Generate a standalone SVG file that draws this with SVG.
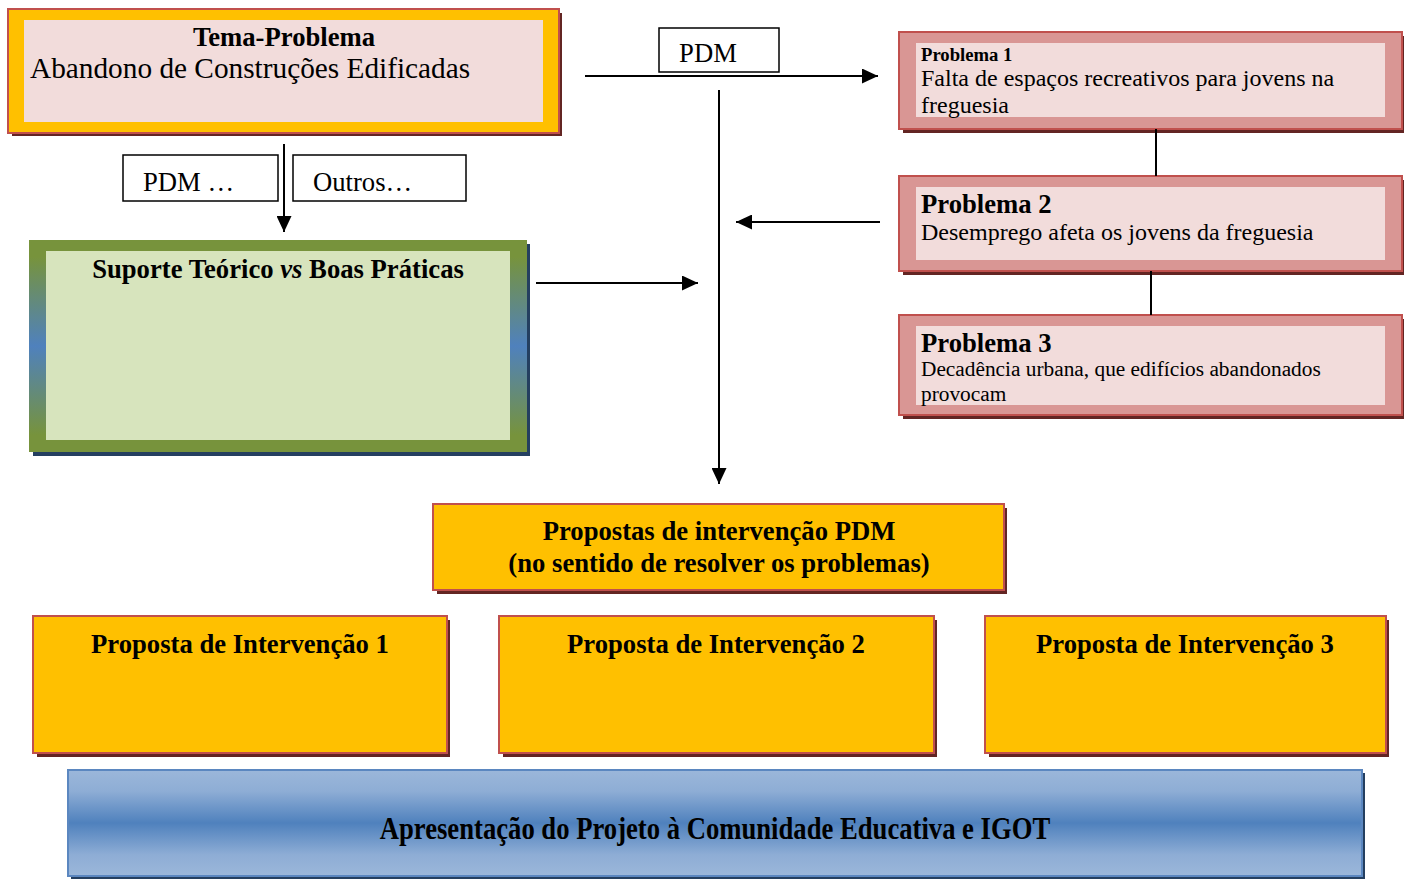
<svg xmlns="http://www.w3.org/2000/svg" width="1409" height="879" viewBox="0 0 1409 879">
<style>
text{font-family:"Liberation Serif","Times New Roman",serif;fill:#000}
.b{font-weight:bold}
.shr{fill:#632523}
.shb{fill:#243F60}
.yel{fill:#FFC000;stroke:#C0504D;stroke-width:2}
.prb{fill:#D99694;stroke:#C0504D;stroke-width:2}
.pink{fill:#F2DCDB}
.lbl{fill:#fff;stroke:#000;stroke-width:1.5}
.con{stroke:#000;stroke-width:2;fill:none}
</style>
<defs>
<marker id="ah" viewBox="0 0 16 15" refX="16" refY="7.5" markerWidth="16" markerHeight="15" markerUnits="userSpaceOnUse" orient="auto">
<path d="M0,0 L16,7.5 L0,15 z" fill="#000"/>
</marker>
<linearGradient id="gGreen" x1="0" y1="0" x2="0" y2="1">
<stop offset="0" stop-color="#77933C"/>
<stop offset="0.08" stop-color="#77933C"/>
<stop offset="0.5" stop-color="#4F81BD"/>
<stop offset="0.92" stop-color="#77933C"/>
<stop offset="1" stop-color="#77933C"/>
</linearGradient>
<linearGradient id="gBlue" x1="0" y1="0" x2="0" y2="1">
<stop offset="0" stop-color="#9BB7DA"/>
<stop offset="0.2" stop-color="#8EADD5"/>
<stop offset="0.5" stop-color="#4F81BD"/>
<stop offset="0.8" stop-color="#8EADD5"/>
<stop offset="1" stop-color="#9BB7DA"/>
</linearGradient>
</defs>

<g id="tema">
<rect class="shr" x="12" y="13" width="550" height="123"/>
<rect class="yel" x="8" y="9" width="551" height="124"/>
<rect class="pink" x="24" y="20" width="519" height="102"/>
<text class="b" x="284" y="46" font-size="26.67" text-anchor="middle">Tema-Problema</text>
<text x="30" y="78" font-size="29.3">Abandono de Construções Edificadas</text>
</g>

<g id="lbl-pdm1">
<rect class="lbl" x="123" y="155" width="155" height="46"/>
<text x="143" y="191" font-size="26.67">PDM …</text>
</g>
<g id="lbl-outros">
<rect class="lbl" x="293" y="155" width="173" height="46"/>
<text x="313" y="191" font-size="26.67">Outros…</text>
</g>
<g id="lbl-pdm2">
<rect class="lbl" x="659" y="28" width="120" height="44"/>
<text x="708" y="62" font-size="26.67" text-anchor="middle">PDM</text>
</g>

<g id="suporte">
<rect class="shb" x="33" y="244" width="497" height="212"/>
<rect x="29" y="240" width="498" height="212" fill="url(#gGreen)"/>
<rect x="29" y="240" width="498" height="11" fill="#77933C"/>
<rect x="29" y="440" width="498" height="12" fill="#77933C"/>
<rect x="46" y="251" width="464" height="189" fill="#D7E4BD"/>
<text class="b" x="278" y="278" font-size="26.67" text-anchor="middle">Suporte Teórico <tspan font-style="italic">vs</tspan> Boas Práticas</text>
</g>

<g id="problema1">
<rect class="shr" x="903" y="36" width="501" height="97"/>
<rect class="prb" x="899" y="32" width="503" height="97"/>
<rect class="pink" x="916" y="43" width="469" height="74"/>
<text class="b" x="921" y="61" font-size="18.67">Problema 1</text>
<text x="921" y="86" font-size="24">Falta de espaços recreativos para jovens na</text>
<text x="921" y="113" font-size="24">freguesia</text>
</g>

<g id="problema2">
<rect class="shr" x="903" y="180" width="501" height="95"/>
<rect class="prb" x="899" y="176" width="503" height="95"/>
<rect class="pink" x="916" y="187" width="469" height="73"/>
<text class="b" x="921" y="213" font-size="26.67">Problema 2</text>
<text x="921" y="240" font-size="24">Desemprego afeta os jovens da freguesia</text>
</g>

<g id="problema3">
<rect class="shr" x="903" y="319" width="501" height="100"/>
<rect class="prb" x="899" y="315" width="503" height="100"/>
<rect class="pink" x="916" y="326" width="469" height="79"/>
<text class="b" x="921" y="352" font-size="26.67">Problema 3</text>
<text x="921" y="376" font-size="21.33">Decadência urbana, que edifícios abandonados</text>
<text x="921" y="401" font-size="21.33">provocam</text>
</g>

<g id="propostas-pdm">
<rect class="shr" x="437" y="508" width="570" height="86"/>
<rect class="yel" x="433" y="504" width="571" height="86"/>
<text class="b" x="719" y="540" font-size="26.67" text-anchor="middle">Propostas de intervenção PDM</text>
<text class="b" x="719" y="572" font-size="26.67" text-anchor="middle">(no sentido de resolver os problemas)</text>
</g>

<g id="proposta1">
<rect class="shr" x="37" y="620" width="413" height="137"/>
<rect class="yel" x="33" y="616" width="414" height="137"/>
<text class="b" x="240" y="653" font-size="26.67" text-anchor="middle">Proposta de Intervenção 1</text>
</g>
<g id="proposta2">
<rect class="shr" x="503" y="620" width="434" height="137"/>
<rect class="yel" x="499" y="616" width="435" height="137"/>
<text class="b" x="716" y="653" font-size="26.67" text-anchor="middle">Proposta de Intervenção 2</text>
</g>
<g id="proposta3">
<rect class="shr" x="989" y="620" width="400" height="137"/>
<rect class="yel" x="985" y="616" width="401" height="137"/>
<text class="b" x="1185" y="653" font-size="26.67" text-anchor="middle">Proposta de Intervenção 3</text>
</g>

<g id="apresentacao">
<rect class="shb" x="71" y="773" width="1294" height="106"/>
<rect x="68" y="770" width="1294" height="106" fill="url(#gBlue)" stroke="#5B87C0" stroke-width="2"/>
<text class="b" x="715" y="839" font-size="26.67" text-anchor="middle" transform="translate(0 839) scale(1 1.15) translate(0 -839)">Apresentação do Projeto à Comunidade Educativa e IGOT</text>
</g>

<g id="connectors">
<line class="con" x1="284" y1="144" x2="284" y2="232" marker-end="url(#ah)"/>
<line class="con" x1="536" y1="283" x2="698" y2="283" marker-end="url(#ah)"/>
<line class="con" x1="585" y1="76" x2="878" y2="76" marker-end="url(#ah)"/>
<line class="con" x1="719" y1="90" x2="719" y2="484" marker-end="url(#ah)"/>
<line class="con" x1="880" y1="222" x2="736" y2="222" marker-end="url(#ah)"/>
<line class="con" x1="1156" y1="129" x2="1156" y2="176"/>
<line class="con" x1="1151" y1="271" x2="1151" y2="315"/>
</g>
</svg>
